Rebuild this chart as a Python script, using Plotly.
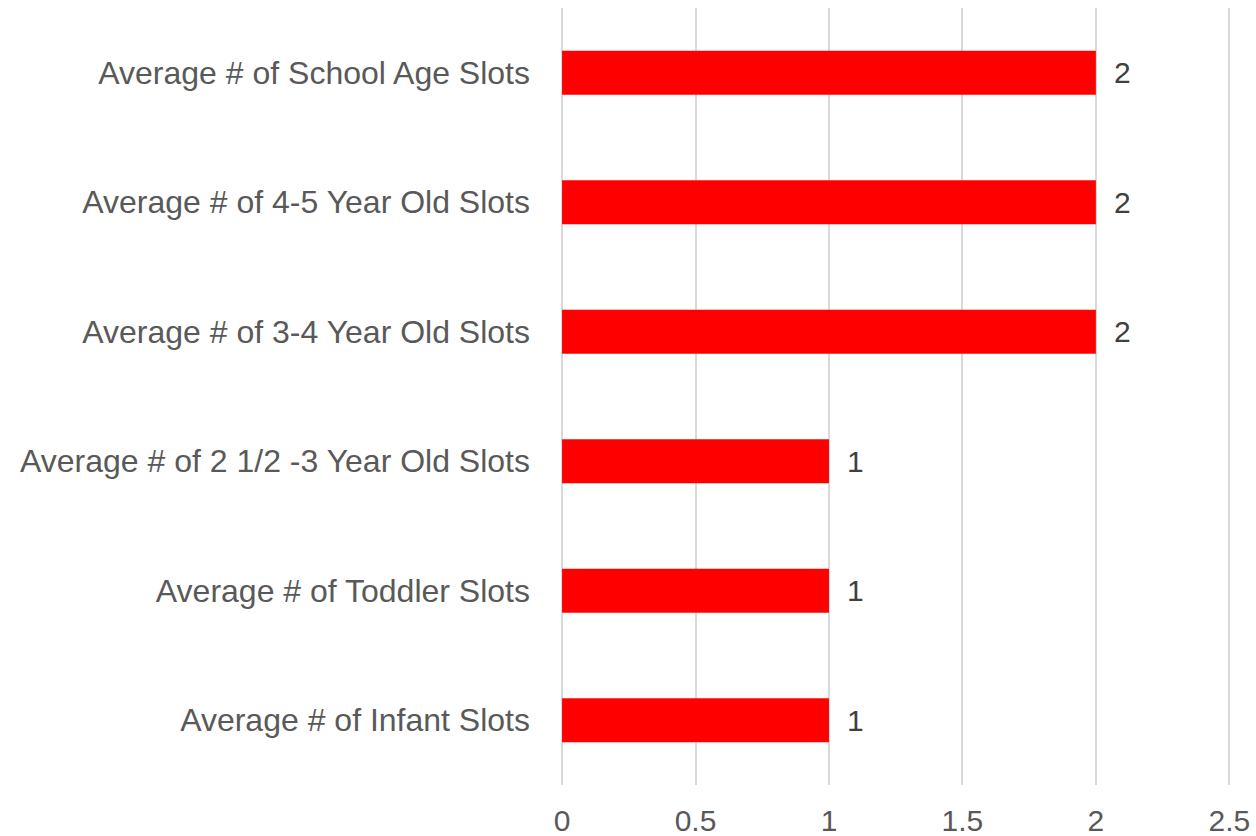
import plotly.graph_objects as go

categories = [
    "Average # of Infant Slots",
    "Average # of Toddler Slots",
    "Average # of 2 1/2 -3 Year Old Slots",
    "Average # of 3-4 Year Old Slots",
    "Average # of 4-5 Year Old Slots",
    "Average # of School Age Slots",
]
values = [1, 1, 1, 2, 2, 2]
x_ticks = [0, 0.5, 1, 1.5, 2, 2.5]
x_tick_labels = ["0", "0.5", "1", "1.5", "2", "2.5"]

FONT = "Liberation Sans"
SIZE = 32

fig = go.Figure(
    go.Bar(
        x=values,
        y=categories,
        orientation="h",
        marker=dict(color="#FF0000", line=dict(width=0)),
        width=0.34,
        text=[str(v) for v in values],
        texttemplate="\u2002%{text}",
        textposition="outside",
        textfont=dict(family=FONT, size=SIZE - 2, color="#404040"),
        cliponaxis=False,
    )
)

fig.update_layout(
    width=1256,
    height=836,
    margin=dict(l=561, r=24, t=8, b=51),
    paper_bgcolor="white",
    plot_bgcolor="white",
    showlegend=False,
    font=dict(family=FONT, size=SIZE, color="#595959"),
    xaxis=dict(
        range=[-0.004, 2.51],
        tickvals=x_ticks,
        ticktext=x_tick_labels,
        showgrid=True,
        gridcolor="#D9D9D9",
        gridwidth=1.5,
        zeroline=True,
        zerolinecolor="#D9D9D9",
        zerolinewidth=1.5,
        showline=False,
        ticks="",
        automargin=False,
        ticklabelstandoff=15,
        tickfont=dict(family=FONT, size=SIZE - 2, color="#595959"),
    ),
    yaxis=dict(
        categoryorder="array",
        categoryarray=categories,
        showgrid=False,
        zeroline=False,
        showline=False,
        ticks="",
        automargin=False,
        ticklabelstandoff=30,
        tickfont=dict(family=FONT, size=SIZE, color="#595959"),
    ),
)

fig.write_html("out.html")
